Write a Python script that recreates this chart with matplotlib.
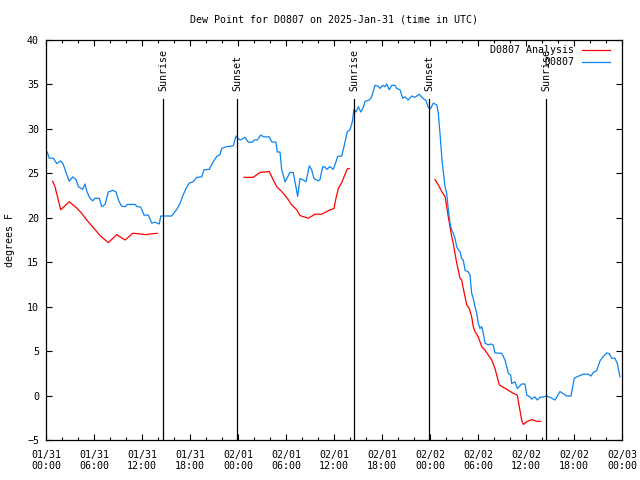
import matplotlib
matplotlib.use('Agg')
import matplotlib.pyplot as plt
import matplotlib.dates as mdates
import numpy as np
import pandas as pd

plt.rcParams['font.family'] = 'DejaVu Sans Mono'
plt.rcParams['font.size'] = 7.2

# --- data (hours after 2025-01-31 00:00 UTC, dew point in F) ---
obs_hours = [0.16, 0.41, 0.91, 1.34, 1.84, 2.16, 2.5, 2.91, 3.34, 3.75, 4.04, 4.59,
             4.88, 5.09, 5.5, 5.84, 6.12, 6.66, 6.96, 7.38, 7.79, 8.09, 8.34, 8.75,
             9.09, 9.46, 9.88, 10.16, 11.12, 11.41, 11.84, 12.25, 12.79, 13.21, 13.62,
             14.16, 14.34, 15.71, 16.34, 16.75, 17.09, 17.5, 17.91, 18.41, 18.84, 19.46,
             19.75, 20.41, 20.91, 21.34, 21.75, 21.96, 22.59, 23.41, 23.75, 24.16, 24.34,
             24.88, 25.29, 25.84, 26.0, 26.41, 26.84, 27.25, 27.91, 28.21, 28.75, 28.91,
             29.25, 29.46, 29.66, 29.88, 30.5, 30.91, 31.12, 31.34, 31.46, 31.75, 32.16,
             32.5, 32.91, 33.21, 33.5, 34.04, 34.25, 34.59, 34.88, 35.09, 35.5, 35.91,
             36.25, 36.46, 36.96, 37.25, 37.66, 38.0, 38.29, 38.5, 38.75, 39.04, 39.34,
             39.66, 39.88, 40.41, 40.71, 41.12, 41.54, 41.75, 42.09, 42.38, 42.59, 42.91,
             43.21, 43.62, 43.84, 44.25, 44.59, 44.88, 45.29, 45.71, 46.12, 46.66, 47.09,
             47.5, 47.79, 48.09, 48.41, 48.84, 49.04, 49.25, 49.5, 49.66, 49.88, 50.09,
             50.29, 50.5, 50.71, 50.91, 51.12, 51.34, 51.54, 51.75, 51.96, 52.16, 52.38,
             52.79, 53.0, 53.21, 53.41, 53.62, 53.84, 54.04, 54.25, 54.46, 54.66, 54.88,
             55.29, 55.59, 55.91, 56.12, 56.96, 57.38, 57.79, 58.09, 58.21, 58.62, 58.91,
             59.46, 59.88, 60.09, 60.5, 60.71, 61.12, 61.41, 61.75, 62.16, 62.59, 63.0,
             63.62, 64.25, 64.66, 65.09, 65.62, 66.04, 66.34, 67.16, 67.79, 68.12, 68.41,
             68.84, 69.25, 69.66, 70.09, 70.41, 70.71, 71.12, 71.41, 71.75]
obs_vals = [27.4, 26.7, 26.7, 26.1, 26.4, 26.0, 25.1, 24.1, 24.6, 24.3, 23.5, 23.2,
            23.8, 23.0, 22.2, 21.9, 22.2, 22.2, 21.25, 21.5, 22.9, 23.0, 23.1, 22.9,
            21.9, 21.3, 21.25, 21.5, 21.5, 21.25, 21.2, 20.3, 20.3, 19.4, 19.5,
            19.3, 20.2, 20.2, 20.95, 21.6, 22.45, 23.3, 23.9, 24.05, 24.55, 24.6,
            25.4, 25.45, 26.3, 26.9, 27.1, 27.8, 28.0, 28.1, 29.2, 28.8, 28.75,
            29.05, 28.5, 28.5, 28.75, 28.75, 29.3, 29.1, 29.1, 28.55, 28.5, 27.4,
            27.4, 25.4, 24.8, 24.05, 25.1, 25.1, 24.05, 22.95, 22.4, 24.4, 24.25,
            24.05, 25.85, 25.4, 24.4, 24.15, 24.3, 25.75, 25.7, 25.45, 25.75, 25.45,
            26.3, 26.9, 26.95, 28.0, 29.7, 29.9, 30.8, 32.2, 31.9, 32.5, 31.9,
            32.4, 33.1, 33.25, 33.6, 34.9, 34.8, 34.55, 34.9, 34.75, 35.05, 34.4,
            34.9, 34.9, 34.55, 34.4, 33.45, 33.6, 33.25, 33.7, 33.55, 33.9, 33.45,
            33.2, 32.4, 32.3, 32.9, 32.7, 31.75, 29.5, 26.5, 25.2, 23.5, 22.75,
            20.9, 19.4, 18.6, 18.25, 17.7, 16.75, 16.4, 16.2, 15.4, 15.25, 14.1,
            13.9, 13.55, 11.5, 10.9, 10.0, 9.25, 8.1, 7.55, 7.75, 7.0, 5.9,
            5.7, 5.8, 5.7, 4.8, 4.75, 4.0, 2.5, 2.3, 1.35, 1.55, 0.8,
            1.3, 1.3, 0.05, -0.15, -0.4, -0.15, -0.5, -0.2, -0.15, -0.05, -0.2,
            -0.5, 0.45, 0.2, -0.05, -0.05, 1.95, 2.1, 2.4, 2.4, 2.2, 2.6,
            2.8, 3.9, 4.4, 4.8, 4.7, 4.2, 4.2, 3.6, 2.1]

ana_hours = [0.84, 1.12, 1.84, 2.91, 3.84, 4.46, 5.09, 5.91, 6.75, 7.79, 8.84, 9.88,
             10.84, 11.54, 12.5, 13.21, 13.91, 19.0,
             24.75, 25.91, 26.75, 27.91, 28.41, 28.84, 29.46, 30.16, 30.71, 31.34,
             31.75, 32.79, 33.62, 34.46, 35.29, 36.0, 36.25, 36.54, 36.96, 37.66, 37.91, 43.0,
             48.62, 49.04, 49.46, 49.88, 50.09, 50.29, 50.5, 50.71, 50.91, 51.12, 51.34,
             51.54, 51.75, 51.96, 52.16, 52.38, 52.59, 52.91, 53.21, 53.41, 53.62, 54.04,
             54.46, 54.88, 55.29, 55.71, 56.12, 56.66, 57.59, 58.41, 58.91, 59.16, 59.46,
             59.66, 60.09, 60.71, 61.34, 61.84]
ana_vals = [24.1, 23.5, 20.9, 21.8, 21.1, 20.5, 19.75, 18.9, 18.0, 17.2, 18.1, 17.5,
            18.25, 18.2, 18.1, 18.2, 18.25, np.nan,
            24.55, 24.55, 25.1, 25.2, 24.25, 23.5, 22.95, 22.2, 21.45, 20.9,
            20.25, 19.95, 20.4, 20.4, 20.8, 21.05, 22.2, 23.3, 23.95, 25.5, 25.55, np.nan,
            24.3, 23.7, 22.95, 22.4, 21.25, 20.1, 19.0, 17.9, 17.1, 16.0, 14.9,
            14.1, 13.2, 13.0, 12.05, 11.1, 10.2, 9.8, 8.85, 7.75, 7.2, 6.6,
            5.5, 5.1, 4.55, 4.0, 3.05, 1.2, 0.7, 0.25, 0.05, -1.25, -2.75,
            -3.25, -2.95, -2.7, -2.9, -2.9]

sun_hours = [14.66, 23.92, 38.52, 47.92, 62.5]
sun_labels = ['Sunrise', 'Sunset', 'Sunrise', 'Sunset', 'Sunrise']

base = pd.Timestamp('2025-01-31 00:00')
obs_t = base + pd.to_timedelta(obs_hours, unit='h')
ana_t = base + pd.to_timedelta(ana_hours, unit='h')
sun_t = base + pd.to_timedelta(sun_hours, unit='h')

fig = plt.figure(figsize=(6.4, 4.8), dpi=100)
ax = fig.add_axes([46 / 640, 40 / 480, 576 / 640, 400 / 480])

red = '#ff0000'
blue = '#0a84f0'
ax.plot(ana_t, ana_vals, color=red, lw=0.9)
ax.plot(obs_t, obs_vals, color=blue, lw=0.9)

# sunrise / sunset markers
for t, lab in zip(sun_t, sun_labels):
    ax.axvline(t, ymin=0, ymax=0.852, color='black', lw=0.9)
    ax.text(t, 0.872, lab, rotation=90, ha='center', va='bottom',
            transform=ax.get_xaxis_transform())

ax.set_xlim(base, base + pd.Timedelta(hours=72))
ax.set_ylim(-5, 40)
ax.set_yticks(np.arange(-5, 41, 5))

ax.xaxis.set_major_locator(mdates.HourLocator(byhour=[0, 6, 12, 18]))
ax.xaxis.set_minor_locator(mdates.HourLocator(byhour=range(0, 24, 2)))
ax.xaxis.set_major_formatter(mdates.DateFormatter('%m/%d\n%H:%M'))

ax.tick_params(axis='both', which='major', direction='in', length=4.5, width=0.8,
               top=True, right=True)
ax.tick_params(axis='x', which='minor', direction='in', length=2.5, width=0.8, top=True)
ax.tick_params(axis='x', which='major', pad=7)
ax.tick_params(axis='y', which='major', pad=5)
for s in ax.spines.values():
    s.set_linewidth(0.9)

ax.set_ylabel('degrees F')
ax.yaxis.set_label_coords(-0.054, 0.5)

fig.text(334 / 640, 1 - 19 / 480, 'Dew Point for D0807 on 2025-Jan-31 (time in UTC)',
         ha='center', va='center')

# legend (text right-aligned, sample on the right, gnuplot style)
leg_items = [('D0807 Analysis', red, 50), ('D0807', blue, 62)]
for lab, col, py in leg_items:
    yf = (440 - py) / 400
    ax.text((574 - 46) / 576, yf, lab, ha='right', va='center', transform=ax.transAxes)
    ax.plot([(582 - 46) / 576, (610 - 46) / 576], [yf, yf], color=col, lw=0.9,
            transform=ax.transAxes)

plt.savefig('out.png', dpi=100)
